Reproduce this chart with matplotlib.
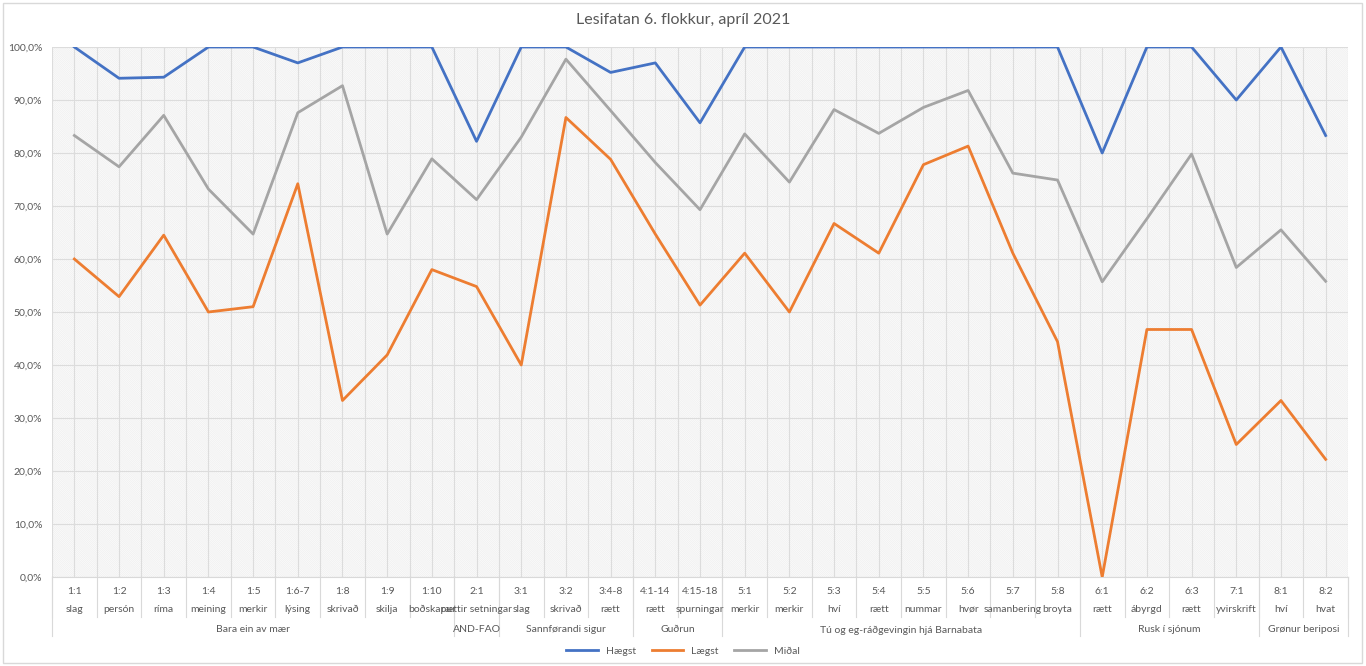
import matplotlib.pyplot as plt
import matplotlib.transforms as mtransforms
from matplotlib.patches import Rectangle
from matplotlib.lines import Line2D
from matplotlib.ticker import FuncFormatter

plt.rcParams['font.family'] = ['Lato', 'DejaVu Sans']
plt.rcParams['hatch.linewidth'] = 0.35

codes = ["1:1", "1:2", "1:3", "1:4", "1:5", "1:6-7", "1:8", "1:9", "1:10", "2:1",
         "3:1", "3:2", "3:4-8", "4:1-14", "4:15-18", "5:1", "5:2", "5:3", "5:4",
         "5:5", "5:6", "5:7", "5:8", "6:1", "6:2", "6:3", "7:1", "8:1", "8:2"]
names = ["slag", "persón", "ríma", "meining", "merkir", "lýsing", "skrivað", "skilja",
         "boðskapur", "rættir setningar", "slag", "skrivað", "rætt", "rætt", "spurningar",
         "merkir", "merkir", "hví", "rætt", "nummar", "hvør", "samanbering", "broyta",
         "rætt", "ábyrgd", "rætt", "yvirskrift", "hví", "hvat"]
groups = ["Bara ein av mær", "AND-FAO", "Sannførandi sigur", "Guðrun",
          "Tú og eg-ráðgevingin hjá Barnabata", "Rusk í sjónum", "Grønur beriposi"]
group_sizes = [9, 1, 3, 2, 8, 4, 2]

haegst = [100, 94.1, 94.3, 100, 100, 97.0, 100, 100, 100, 82.2, 100, 100, 95.2, 97.0,
          85.7, 100, 100, 100, 100, 100, 100, 100, 100, 80.0, 100, 100, 90.0, 100, 83.3]
laegst = [60.0, 52.9, 64.5, 50.0, 51.0, 74.2, 33.3, 41.9, 58.0, 54.8, 40.0, 86.7, 78.8,
          64.7, 51.3, 61.1, 50.0, 66.7, 61.1, 77.8, 81.3, 61.1, 44.4, 0.0, 46.7, 46.7,
          25.0, 33.3, 22.2]
midal = [83.3, 77.4, 87.1, 73.2, 64.7, 87.6, 92.7, 64.7, 78.9, 71.2, 83.0, 97.7, 88.0,
         78.2, 69.3, 83.6, 74.5, 88.2, 83.7, 88.6, 91.8, 76.2, 74.9, 55.7, 67.6, 79.8,
         58.4, 65.5, 55.8]

txt = '#595959'
grid_c = '#dcdcdc'
n = len(codes)
x = list(range(n))

fig = plt.figure(figsize=(13.66, 6.66), dpi=100)
fig.patches.append(Rectangle((3 / 1366, 3 / 666), 1359 / 1366, 660 / 666,
                             transform=fig.transFigure, fill=False,
                             edgecolor='#d9d9d9', lw=1))
ax = fig.add_axes([52 / 1366, 89 / 666, 1296 / 1366, 530 / 666])

# light hatched plot area
ax.add_patch(Rectangle((0, 0), 1, 1, transform=ax.transAxes, facecolor='#fafafa',
                       edgecolor='#ececec', hatch='\\' * 16, lw=0, zorder=0))

ax.plot(x, haegst, color='#4472C4', lw=2.0, label='Hægst', zorder=3)
ax.plot(x, laegst, color='#ED7D31', lw=2.0, label='Lægst', zorder=3)
ax.plot(x, midal, color='#A5A5A5', lw=2.0, label='Miðal', zorder=3)

ax.set_xlim(-0.5, n - 0.5)
ax.set_ylim(0, 100)
ax.set_yticks(range(0, 101, 10))
ax.yaxis.set_major_formatter(FuncFormatter(lambda v, p: f"{v:.1f}%".replace('.', ',')))
ax.set_xticks(x)
ax.set_xticks([i - 0.5 for i in range(n + 1)], minor=True)
ax.set_xticklabels([])
ax.tick_params(axis='both', length=0, labelsize=7.5, labelcolor=txt)
ax.tick_params(axis='y', pad=7)
ax.grid(True, which='both', color=grid_c, lw=0.8, zorder=1)
ax.set_axisbelow(True)
for s in ['top', 'right', 'left']:
    ax.spines[s].set_visible(False)
ax.spines['bottom'].set_color('#d9d9d9')

# multi-level category labels
trans = mtransforms.blended_transform_factory(ax.transData, ax.transAxes)
for i in range(n):
    ax.text(i, -15 / 530, codes[i], transform=trans, ha='center', va='center',
            fontsize=7.5, color=txt)
    ax.text(i, -32 / 530, names[i], transform=trans, ha='center', va='center',
            fontsize=7.5, color=txt)
for i in range(n + 1):
    ax.add_line(Line2D([i - 0.5, i - 0.5], [0, -40 / 530], transform=trans,
                       color='#d9d9d9', lw=0.8, clip_on=False))
start = 0
for g, size in zip(groups, group_sizes):
    ax.text(start + size / 2 - 0.5, -53 / 530, g, transform=trans, ha='center',
            va='center', fontsize=7.5, color=txt)
    ax.add_line(Line2D([start - 0.5, start - 0.5], [0, -59 / 530], transform=trans,
                       color='#d9d9d9', lw=0.8, clip_on=False))
    start += size
ax.add_line(Line2D([start - 0.5, start - 0.5], [0, -59 / 530], transform=trans,
                   color='#d9d9d9', lw=0.8, clip_on=False))

fig.text(0.5, 1 - 20 / 666, 'Lesifatan 6. flokkur, apríl 2021', ha='center',
         va='center', fontsize=11.5, color=txt)
leg = fig.legend(loc='center', bbox_to_anchor=(0.5, 1 - 651 / 666), ncol=3,
                 frameon=False, fontsize=7.5, handlelength=3, columnspacing=1.5)
for t in leg.get_texts():
    t.set_color(txt)

fig.savefig('out.png', dpi=100)
